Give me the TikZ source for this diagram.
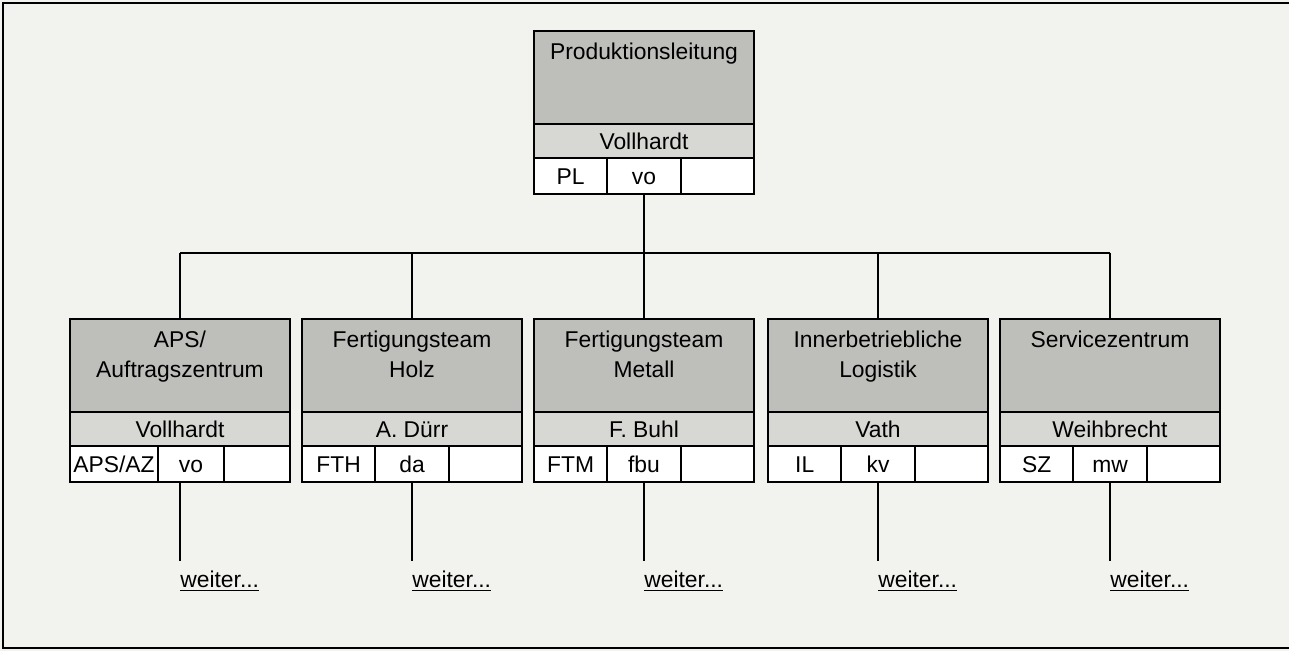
\documentclass[tikz,border=0pt]{standalone}
\usepackage{fontspec}
\setmainfont{Liberation Sans}
\usetikzlibrary{positioning}
\definecolor{paper}{RGB}{242,242,239}
\definecolor{headgray}{RGB}{190,190,187}
\definecolor{namegray}{RGB}{215,215,211}
\tikzset{
  box/.style={draw,line width=1.1pt,inner sep=0pt,outer sep=0pt},
  head/.style={box,fill=headgray,minimum width=4.4cm,minimum height=1.86cm,anchor=north},
  headtext/.style={inner sep=0pt,align=center,font=\fontsize{13}{17}\selectfont},
  nameband/.style={box,fill=namegray,minimum width=4.4cm,minimum height=0.68cm,
    text height=9.3pt,text depth=0pt,font=\fontsize{13}{15}\selectfont},
  cell/.style={box,fill=white,minimum height=0.72cm,
    text height=9.3pt,text depth=0pt,font=\fontsize{13}{15}\selectfont},
  wire/.style={line width=1.1pt},
  more/.style={inner sep=0pt,anchor=north west,font=\fontsize{13}{15}\selectfont}
}
% one unit: title block, head of unit, row of short codes
\newcommand{\orgunit}[7][1.467]{%
  \pgfmathsetmacro{\restw}{(4.4-#1)/2}
  \node[head] (#2) at (#3) {};
  \node[headtext,below=0.24cm of #2.north] (#2-title) {#4};
  \node[nameband,below=0pt of #2] (#2-name) {#5};
  \node[cell,minimum width=#1cm,anchor=north west] (#2-code) at (#2-name.south west) {#6};
  \node[cell,minimum width=\restw cm,right=0pt of #2-code] (#2-short) {#7};
  \node[cell,minimum width=\restw cm,right=0pt of #2-short] (#2-spare) {};
}
% underlined link text
\newcommand{\weiterlink}{\underline{weiter...}}

\begin{document}
\begin{tikzpicture}[x=0.02cm,y=-0.02cm]
  % Paper
  \fill[paper] (0,0) rectangle (1289,651);
  \useasboundingbox (0,0) rectangle (1289,651);
  \draw[line width=0.6pt] (1292,3) -- (3,3) -- (3,648) -- (1292,648);
  % Units
  \orgunit{pl}{644,31}{Produktionsleitung}{Vollhardt}{PL}{vo}
  \orgunit[1.76]{aps}{180,319}{APS/\\Auftragszentrum}{Vollhardt}{APS/AZ}{vo}
  \orgunit{fth}{412,319}{Fertigungsteam\\Holz}{A. Dürr}{FTH}{da}
  \orgunit{ftm}{644,319}{Fertigungsteam\\Metall}{F. Buhl}{FTM}{fbu}
  \orgunit{il}{878,319}{Innerbetriebliche\\Logistik}{Vath}{IL}{kv}
  \orgunit{sz}{1110,319}{Servicezentrum}{Weihbrecht}{SZ}{mw}
  % Wires
  \coordinate (bus) at (644,253);
  \draw[wire] (pl-short.south) -- (pl-short.south |- bus);
  \draw[wire] (aps.north |- bus) -- (sz.north |- bus);
  \foreach \dept in {aps,fth,ftm,il,sz}{
    \draw[wire] (\dept.north |- bus) -- (\dept.north);
    \node[more] (\dept-more) at ([yshift=-1.78cm]\dept.north |- \dept-code.south)
      {\weiterlink};
    \draw[wire] (\dept.north |- \dept-code.south) -- ([yshift=0.2cm]\dept-more.north west);
  }
\end{tikzpicture}
\end{document}
